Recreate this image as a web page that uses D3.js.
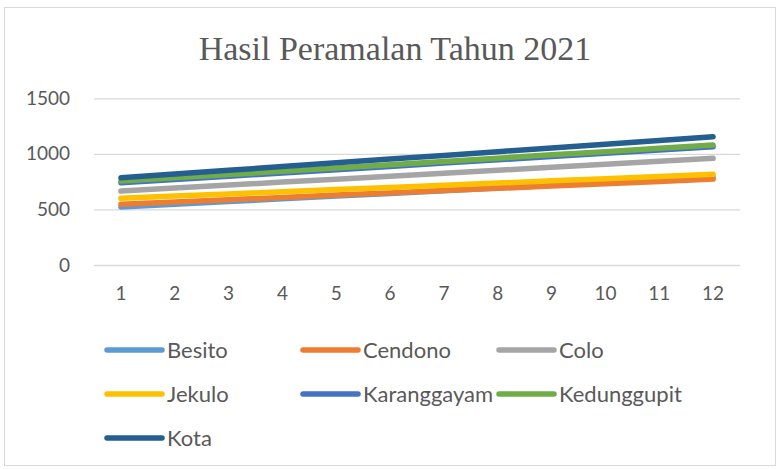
<!DOCTYPE html>
<html><head><meta charset="utf-8">
<script src="https://cdn.jsdelivr.net/npm/d3@7"></script>
<style>html,body{margin:0;padding:0;background:#fff;}svg{display:block;}</style>
</head><body>
<svg id="chart" width="779" height="469"></svg>
<script>
const categories = ["1","2","3","4","5","6","7","8","9","10","11","12"];
const seriesNames = ["Besito","Cendono","Colo","Jekulo","Karanggayam","Kedunggupit","Kota"];
const besito      = [522, 546, 571, 595, 620, 644, 669, 693, 718, 742, 767, 791];
const cendono     = [546, 567, 587, 608, 629, 649, 670, 690, 711, 732, 752, 773];
const colo        = [665, 692, 719, 746, 772, 799, 826, 853, 880, 906, 933, 960];
const jekulo      = [600, 620, 639, 659, 679, 698, 718, 737, 757, 777, 796, 816];
const karanggayam = [740, 769, 799, 828, 858, 887, 917, 946, 976, 1005, 1035, 1064];
const kedunggupit = [755, 784, 814, 843, 873, 902, 932, 961, 991, 1020, 1050, 1079];
const kota        = [785, 819, 852, 886, 919, 953, 986, 1020, 1053, 1087, 1120, 1154];
const yTicks = [0, 500, 1000, 1500];
const colors = ["#5B9BD5","#ED7D31","#A5A5A5","#FFC000","#4472C4","#70AD47","#255E91"];
const title = "Hasil Peramalan Tahun 2021";

const allValues = [besito, cendono, colo, jekulo, karanggayam, kedunggupit, kota];
const series = seriesNames.map((n,i)=>({name:n, values:allValues[i], color:colors[i]}));

const svg = d3.select("#chart");
svg.append("rect").attr("x",4.5).attr("y",7.5).attr("width",771).attr("height",458)
  .attr("fill","#fff").attr("stroke","#d9d9d9").attr("stroke-width",1);

svg.append("text").attr("x",395).attr("y",60).attr("text-anchor","middle")
  .attr("font-family","Liberation Serif, serif").attr("font-size",34).attr("fill","#595959")
  .text(title);

const x = d3.scaleBand().domain(categories).range([94,740]);
const y = d3.scaleLinear().domain([0,1500]).range([265,98.3]);

const yAxis = svg.append("g").attr("transform","translate(94,0)")
  .call(d3.axisLeft(y).tickValues(yTicks).tickSize(-646).tickPadding(24).tickFormat(d3.format("d")));
yAxis.select(".domain").remove();
yAxis.selectAll("line").attr("stroke","#d9d9d9").attr("stroke-width",1.3);
yAxis.selectAll("text").attr("font-family","Lato, sans-serif").attr("font-size",19).attr("fill","#595959");

const xAxis = svg.append("g").attr("transform","translate(0,265)")
  .call(d3.axisBottom(x).tickSize(0).tickPadding(22));
xAxis.select(".domain").remove();
xAxis.selectAll("text").attr("font-family","Lato, sans-serif").attr("font-size",19).attr("fill","#595959");

const line = d3.line().x((d,i)=>x(categories[i])+x.bandwidth()/2).y(d=>y(d));
svg.append("g").selectAll("path").data(series).join("path")
  .attr("d",d=>line(d.values)).attr("fill","none").attr("stroke",d=>d.color)
  .attr("stroke-width",5.5).attr("stroke-linecap","round").attr("stroke-linejoin","round");

const legX = [107, 303, 499];
const legY = [350, 394, 438];
const leg = svg.append("g").selectAll("g").data(series).join("g")
  .attr("transform",(d,i)=>`translate(${legX[i%3]},${legY[Math.floor(i/3)]})`);
leg.append("line").attr("x1",0).attr("x2",55).attr("y1",0).attr("y2",0)
  .attr("stroke",d=>d.color).attr("stroke-width",5.5).attr("stroke-linecap","round");
leg.append("text").attr("x",60).attr("y",0).attr("dy","0.35em")
  .attr("font-family","Lato, sans-serif").attr("font-size",22).attr("fill","#595959")
  .text(d=>d.name);
</script>
</body></html>
